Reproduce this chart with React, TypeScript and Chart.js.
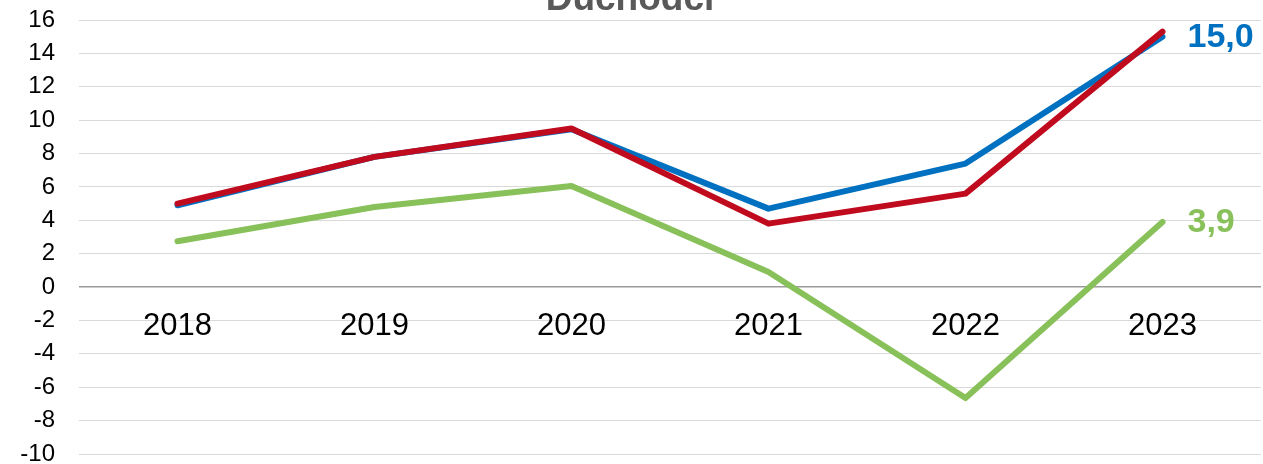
import React, { useEffect, useRef } from "react";
import { Chart, registerables } from "chart.js";

Chart.register(...registerables);

const TITLE = "Důchodci";
const YEARS = ["2018", "2019", "2020", "2021", "2022", "2023"];
const BLUE_VALUES = [4.9, 7.8, 9.45, 4.7, 7.4, 15.0];
const RED_VALUES = [5.0, 7.8, 9.5, 3.8, 5.6, 15.3];
const GREEN_VALUES = [2.75, 4.8, 6.05, 0.9, -6.65, 3.9];
const END_LABELS = ["15,0", "", "3,9"];
const Y_MIN = -10;
const Y_MAX = 16;
const Y_STEP = 2;

const FONT = 'Arial, "Liberation Sans", sans-serif';
const BLUE = "#0070C0";
const RED = "#C00A1E";
const GREEN = "#88C05A";

export default function App() {
  const ref = useRef<HTMLCanvasElement | null>(null);

  useEffect(() => {
    if (!ref.current) return;

    const endLabelPlugin = {
      id: "endLabels",
      afterDatasetsDraw(chart: any) {
        const ctx = chart.ctx;
        ctx.save();
        chart.data.datasets.forEach((ds: any, i: number) => {
          const text = ds.endLabel;
          if (!text) return;
          const meta = chart.getDatasetMeta(i);
          const pt = meta.data[meta.data.length - 1];
          ctx.font = `bold 34px ${FONT}`;
          ctx.fillStyle = ds.borderColor;
          ctx.textAlign = "left";
          ctx.textBaseline = "middle";
          ctx.fillText(text, pt.x + 25, pt.y + 1);
        });
        ctx.restore();
      },
    };

    const titlePlugin = {
      id: "cutTitle",
      afterDraw(chart: any) {
        const ctx = chart.ctx;
        ctx.save();
        ctx.font = `bold 37px ${FONT}`;
        ctx.fillStyle = "#595959";
        ctx.textAlign = "center";
        ctx.textBaseline = "alphabetic";
        ctx.fillText(TITLE, 630, 10);
        ctx.restore();
      },
    };

    const makeDs = (label: string, data: number[], color: string, order: number, endLabel: string) => ({
      label,
      data,
      borderColor: color,
      backgroundColor: color,
      borderWidth: 6,
      pointRadius: 0,
      borderCapStyle: "round",
      borderJoinStyle: "round",
      order,
      endLabel,
    });

    const chart = new Chart(ref.current, {
      type: "line",
      data: {
        labels: YEARS,
        datasets: [
          makeDs("blue", BLUE_VALUES, BLUE, 2, END_LABELS[0]),
          makeDs("red", RED_VALUES, RED, 1, END_LABELS[1]),
          makeDs("green", GREEN_VALUES, GREEN, 0, END_LABELS[2]),
        ] as any,
      },
      options: {
        animation: false,
        responsive: false,
        layout: { padding: { top: 20, bottom: 10, right: 2, left: 0 } },
        plugins: {
          legend: { display: false },
          tooltip: { enabled: false },
          title: { display: false },
        },
        scales: {
          x: {
            type: "category",
            position: { y: 0 } as any,
            offset: true,
            afterFit(scale: any) {
              scale.height = 0;
              scale.paddingLeft = 0;
              scale.paddingRight = 0;
            },
            grid: { display: false, drawTicks: false },
            border: { display: false },
            ticks: {
              color: "#000000",
              font: { family: FONT, size: 31 },
              padding: 21,
              maxRotation: 0,
              autoSkip: false,
            },
          },
          y: {
            min: Y_MIN,
            max: Y_MAX,
            afterFit(scale: any) {
              scale.width = 79;
              scale.paddingTop = 0;
              scale.paddingBottom = 0;
            },
            grid: {
              drawTicks: false,
              color: (c: any) => (c.tick && c.tick.value === 0 ? "#9a9a9a" : "#d9d9d9"),
              lineWidth: (c: any) => (c.tick && c.tick.value === 0 ? 1.5 : 1),
            },
            border: { display: false },
            ticks: {
              stepSize: Y_STEP,
              color: "#000000",
              font: { family: FONT, size: 24 },
              padding: 24,
            },
          },
        },
      },
      plugins: [endLabelPlugin, titlePlugin],
    } as any);

    return () => chart.destroy();
  }, []);

  return (
    <div style={{ position: "absolute", left: 0, top: 0, width: 1263, height: 464 }}>
      <canvas ref={ref} width={1263} height={464} style={{ display: "block" }} />
    </div>
  );
}
